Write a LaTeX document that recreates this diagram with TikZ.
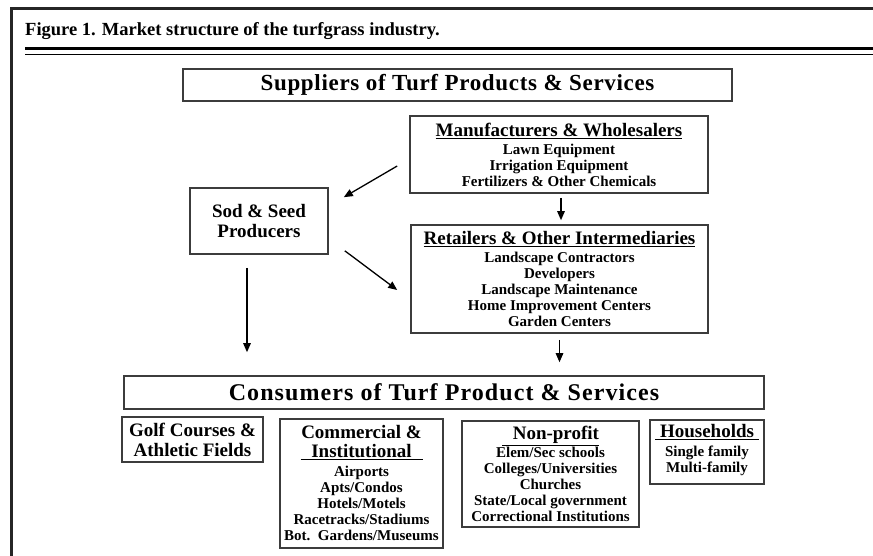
\documentclass[tikz,border=0pt]{standalone}
\usepackage{fontspec}
\setmainfont{Liberation Serif}
\usepackage{tikz}
\usetikzlibrary{arrows,arrows.meta,positioning,calc}
\definecolor{boxline}{RGB}{60,60,60}
\tikzstyle{arrow} = [line width=1.3pt,->,>={Triangle[length=9pt,width=7.5pt]}]
\tikzstyle{box} = [draw=boxline, line width=1.6pt, align=center, inner sep=0pt]
\newcommand{\bigfont}{\fontsize{23}{25}\selectfont\bfseries\addfontfeature{LetterSpace=3}}
\newcommand{\headfont}{\fontsize{19}{20}\selectfont\bfseries}
\newcommand{\itemfont}{\fontsize{15}{16}\selectfont\bfseries}

\begin{document}
\begin{tikzpicture}[x=1pt, y=-1pt]
\useasboundingbox (0,0) rectangle (873,556);

% Page frame and title rules
\draw[line width=2.5pt, black!85] (11.5,556) -- (11.5,8.5) -- (873,8.5);
\node[anchor=west, inner sep=0pt, font=\fontsize{18.5}{20}\selectfont\bfseries] (title) at (25,31) {Figure 1. Market structure of the turfgrass industry.};
\draw[line width=3pt] (25,49) -- (873,49);
\draw[line width=1.5pt] (25,54.5) -- (873,54.5);

% Supply side
\node[box, minimum width=549, minimum height=32, font=\bigfont] (supp) at (457.5,85) {Suppliers of Turf Products \& Services};
\node[box, minimum width=298, minimum height=77, font=\itemfont] (manu) at (559,154.5) {{\headfont\underline{Manufacturers \& Wholesalers}}\\[2pt] Lawn Equipment\\ Irrigation Equipment\\ Fertilizers \& Other Chemicals};
\node[box, minimum width=297, minimum height=108, font=\itemfont] (retail) at (559.5,279) {{\headfont\underline{Retailers \& Other Intermediaries}}\\[2pt] Landscape Contractors\\ Developers\\ Landscape Maintenance\\ Home Improvement Centers\\ Garden Centers};
\node[box, minimum width=138, minimum height=66, font=\headfont] (sod) at (259,221) {Sod \& Seed\\ Producers};

% Consumer side
\node[box, minimum width=640, minimum height=33, font=\bigfont\fontsize{24}{26}\selectfont\addfontfeature{LetterSpace=4.5}] (cons) at (444,392.5) {Consumers of Turf Product \& Services};
\node[box, minimum width=141, minimum height=45, font=\headfont] (golf) at (192.5,439.5) {Golf Courses \&\\ Athletic Fields};
\node[box, minimum width=163, minimum height=129, font=\itemfont] (comm) at (361.5,483.5) {{\headfont Commercial \&}\\[3pt] {\headfont\underline{\makebox[122pt]{Institutional}}}\\[3pt] Airports\\ Apts/Condos\\ Hotels/Motels\\ Racetracks/Stadiums\\ Bot.\ \ Gardens/Museums};
\node[box, minimum width=177, minimum height=106, font=\itemfont] (nonprofit) at (550.5,474) {{\headfont\underline{\makebox[97pt]{\hfill Non-profit}}}\\[1pt] Elem/Sec schools\\ Colleges/Universities\\ Churches\\ State/Local government\\ Correctional Institutions};
\node[box, minimum width=114, minimum height=64, font=\itemfont] (house) at (707,452) {{\headfont\underline{\makebox[104pt]{Households}}}\\[3pt] Single family\\ Multi-family\\[-8pt]};

% Flows
\draw[arrow] ($(manu.west)+(-12,11.5)$) -- ($(sod.north east)+(15,10)$);
\draw[arrow] ($(sod.south east)+(16,-4)$) -- ($(retail.west)+(-13,11)$);
\draw[arrow] ($(sod.south)+(-12,13)$) -- ($(sod.south |- cons.north)+(-12,-23)$);
\draw[arrow, shorten <=4pt, shorten >=4pt] ($(manu.south)+(2,0)$) -- ($(retail.north)+(1.5,0)$);
\draw[arrow, shorten <=6pt, shorten >=13pt] (retail.south) -- (retail.south |- cons.north);

\end{tikzpicture}
\end{document}
